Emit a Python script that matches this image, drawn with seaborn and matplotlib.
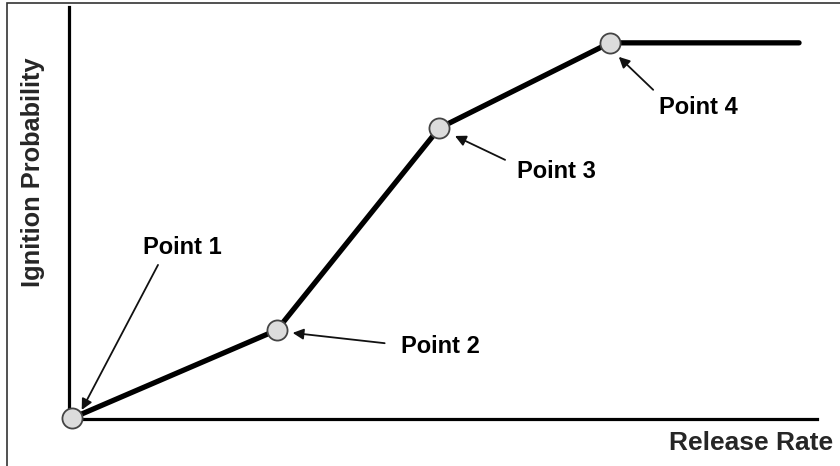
import seaborn as sns
import matplotlib.pyplot as plt
import matplotlib.patches as mpatches
import pandas as pd

sns.set_style('white')
plt.rcParams['font.family'] = ['Liberation Sans', 'DejaVu Sans']

# knee points of the curve (arbitrary units 0-100)
rate = [0.4, 27.8, 49.5, 72.3]
prob = [0.2, 21.6, 70.6, 91.3]
# flat part after point 4
rate_end = 97.6

labels = ['Point 1', 'Point 2', 'Point 3', 'Point 4']
label_pos = [(15.2, 41.7), (49.6, 17.5), (65.2, 60.0), (84.2, 75.7)]
arrow_from = [(11.9, 37.4), (42.2, 18.4), (58.3, 62.9), (78.1, 79.9)]
arrow_to = [(1.7, 2.2), (29.9, 20.9), (51.6, 68.7), (73.5, 87.9)]

line_df = pd.DataFrame({'rate': rate + [rate_end], 'prob': prob + [prob[-1]]})
pts_df = pd.DataFrame({'rate': rate, 'prob': prob})

fig = plt.figure(figsize=(8.4, 4.66), dpi=100)
ax = fig.add_axes([69 / 840, 47 / 466, 748 / 840, 412 / 466])

sns.lineplot(data=line_df, x='rate', y='prob', color='black', lw=3.8,
             sort=False, ax=ax, zorder=3)
sns.scatterplot(data=pts_df, x='rate', y='prob', s=210, color='#dcdcdc',
                edgecolor='#444444', linewidth=1.3, ax=ax, zorder=5, clip_on=False)

for lab, (tx, ty), start, tip in zip(labels, label_pos, arrow_from, arrow_to):
    ax.text(tx, ty, lab, ha='center', va='center', fontsize=17,
            fontweight='bold', color='black')
    ax.annotate('', xy=tip, xytext=start,
                arrowprops=dict(arrowstyle='-|>', color='#111111', lw=1.3,
                                mutation_scale=16, shrinkA=0, shrinkB=0))

ax.set_xlim(0, 100)
ax.set_ylim(0, 100)
ax.set_xticks([])
ax.set_yticks([])
sns.despine(ax=ax)
for side in ['left', 'bottom']:
    ax.spines[side].set_linewidth(2.3)
    ax.spines[side].set_color('black')

ax.set_xlabel('Release Rate', fontsize=19, fontweight='bold')
ax.xaxis.set_label_coords(0.912, -0.058)
ax.xaxis.label.set_va('center')
ax.set_ylabel('Ignition Probability', fontsize=18.3, fontweight='bold')
ax.yaxis.set_label_coords(-0.048, 0.6)
ax.yaxis.label.set_va('center')

# frame around the picture (only left/top edges visible)
fig.patches.append(mpatches.Rectangle((7 / 840, -0.1), 1.0, (463 / 466) + 0.1,
                                      transform=fig.transFigure, fill=False,
                                      edgecolor='#333333', lw=1.2))

fig.savefig('out.png', dpi=100)
